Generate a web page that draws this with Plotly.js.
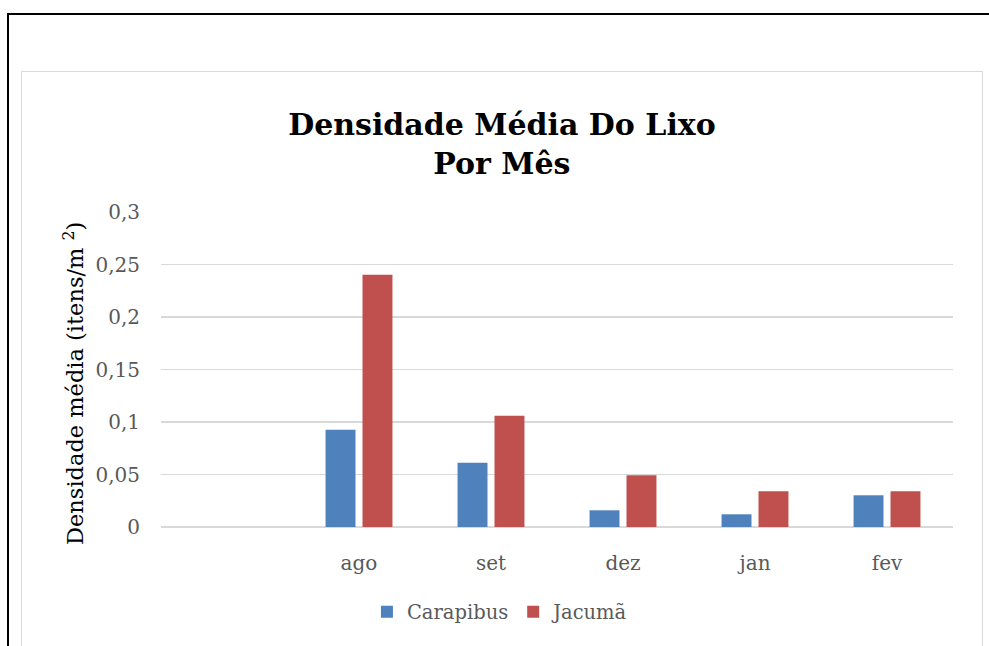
<!DOCTYPE html>
<html>
<head>
<meta charset="utf-8">
<script src="https://cdn.plot.ly/plotly-3.0.1.min.js"></script>
<style>
  html, body { margin: 0; padding: 0; width: 989px; height: 646px; overflow: hidden; background: #fff; }
  #outer { position: absolute; left: 7px; top: 13px; width: 1100px; height: 800px; border: 2px solid #000; box-sizing: border-box; }
  #inner { position: absolute; left: 21px; top: 71px; width: 962px; height: 800px; border: 1.5px solid #d9d9d9; box-sizing: border-box; background: #fff; }
  #chart { position: absolute; left: 0; top: 0; width: 989px; height: 646px; }
</style>
</head>
<body>
<div id="outer"></div>
<div id="inner"></div>
<div id="chart"></div>
<script>
// Data
const months = ["ago", "set", "dez", "jan", "fev"];
const carapibus = [0.0927, 0.0612, 0.0159, 0.0121, 0.0302];
const jacuma = [0.2403, 0.106, 0.0492, 0.034, 0.034];
const yTickVals = [0, 0.05, 0.1, 0.15, 0.2, 0.25, 0.3];
const yTickText = ["0", "0,05", "0,1", "0,15", "0,2", "0,25", "0,3"];

const serif = "DejaVu Serif, Liberation Serif, serif";
const grey = "#595959";

const traces = [
  { type: "bar", name: "Carapibus", x: months, y: carapibus, marker: { color: "#4F81BD" }, hoverinfo: "x+y" },
  { type: "bar", name: "Jacumã", x: months, y: jacuma, marker: { color: "#C0504D" }, hoverinfo: "x+y" }
];

const layout = {
  width: 989,
  height: 646,
  margin: { l: 161, r: 36, t: 212, b: 119, pad: 0 },
  paper_bgcolor: "rgba(0,0,0,0)",
  plot_bgcolor: "rgba(0,0,0,0)",
  separators: ",.",
  barmode: "group",
  bargap: 0.44,
  bargroupgap: 0.19,
  showlegend: true,
  title: {
    text: "Densidade Média Do Lixo<br>Por Mês",
    font: { family: serif, size: 30, color: "#000", weight: "bold" },
    xref: "container", x: 0.5075, xanchor: "center",
    yref: "container", y: 1 - 135 / 646, yanchor: "top"
  },
  xaxis: {
    type: "category",
    categoryorder: "array",
    categoryarray: months,
    range: [-1.5, 4.5],
    showgrid: false,
    showline: false,
    zeroline: false,
    ticks: "",
    ticklabelstandoff: 22,
    tickfont: { family: serif, size: 20, color: grey },
    fixedrange: true
  },
  yaxis: {
    range: [0, 0.3],
    tickvals: yTickVals,
    ticktext: yTickText,
    showgrid: true,
    gridcolor: "#d9d9d9",
    gridwidth: 1.5,
    zeroline: true,
    zerolinecolor: "#d9d9d9",
    zerolinewidth: 1.5,
    showline: false,
    ticks: "",
    ticklabelstandoff: 20,
    tickfont: { family: serif, size: 20, color: grey },
    fixedrange: true
  },
  annotations: [{
    text: "Densidade média (itens/m <sup>2</sup>)",
    xref: "paper", yref: "paper",
    x: (73 - 161) / 792, y: (527 - 384) / 315,
    xanchor: "center", yanchor: "middle",
    textangle: -90,
    showarrow: false,
    font: { family: serif, size: 22.5, color: "#000" }
  }],
  legend: {
    orientation: "h",
    xref: "container", x: 0.506, xanchor: "center",
    yref: "container", y: 1 - 612 / 646, yanchor: "middle",
    font: { family: serif, size: 19.5, color: grey },
    bgcolor: "rgba(0,0,0,0)",
    itemclick: false, itemdoubleclick: false
  }
};

Plotly.newPlot("chart", traces, layout, { displayModeBar: false, staticPlot: true });
</script>
</body>
</html>
